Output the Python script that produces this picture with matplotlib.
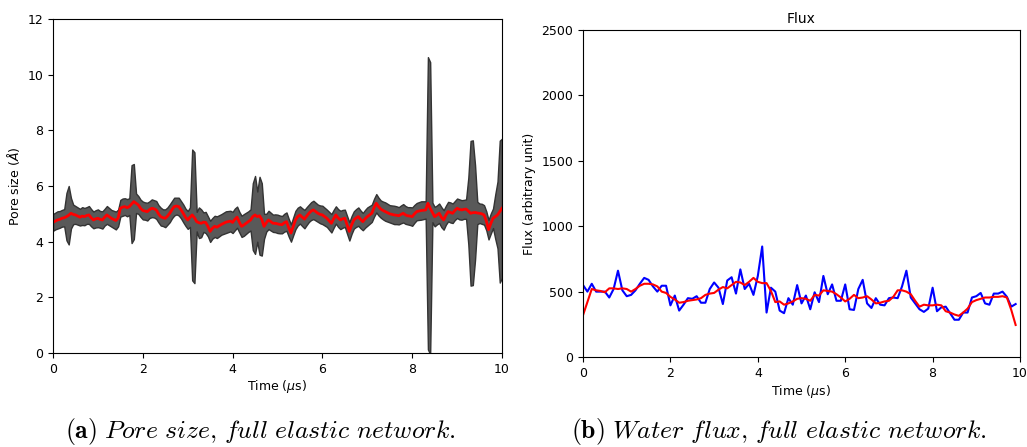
import numpy as np
import matplotlib
matplotlib.use('Agg')
import matplotlib.pyplot as plt

# pore size: time grid (us), mean and standard deviation (Angstrom)
t_pore = np.arange(0, 201) * 0.05
pore_mean = [4.69, 4.74, 4.78, 4.80, 4.84, 4.86, 4.90, 4.95, 5.02, 4.98,
             4.96, 4.92, 4.88, 4.92, 4.90, 4.94, 4.96, 4.86, 4.78, 4.82,
             4.84, 4.80, 4.78, 4.88, 4.96, 4.90, 4.84, 4.80, 4.76, 4.85,
             5.20, 5.24, 5.26, 5.22, 5.26, 5.35, 5.44, 5.38, 5.32, 5.20,
             5.12, 5.10, 5.08, 5.15, 5.20, 5.18, 5.14, 5.00, 4.90, 4.86,
             4.84, 4.92, 5.02, 5.15, 5.26, 5.28, 5.26, 5.15, 5.02, 4.88,
             4.78, 4.88, 4.96, 4.86, 4.72, 4.68, 4.66, 4.70, 4.69, 4.55,
             4.37, 4.48, 4.55, 4.52, 4.57, 4.62, 4.66, 4.70, 4.72, 4.74,
             4.69, 4.80, 4.88, 4.70, 4.55, 4.60, 4.66, 4.72, 4.78, 4.90,
             4.96, 4.90, 4.93, 4.80, 4.55, 4.68, 4.78, 4.72, 4.66, 4.66,
             4.64, 4.62, 4.61, 4.68, 4.72, 4.50, 4.31, 4.55, 4.78, 4.90,
             4.96, 4.88, 4.81, 4.92, 5.02, 5.10, 5.14, 5.08, 5.02, 4.98,
             4.96, 4.90, 4.84, 4.75, 4.66, 4.82, 4.96, 4.85, 4.78, 4.82,
             4.84, 4.60, 4.37, 4.60, 4.78, 4.85, 4.90, 4.80, 4.72, 4.82,
             4.90, 4.96, 5.02, 5.22, 5.38, 5.26, 5.17, 5.12, 5.08, 5.04,
             5.00, 4.98, 4.96, 4.95, 4.93, 4.98, 5.02, 4.96, 4.93, 4.92,
             4.90, 5.00, 5.08, 5.10, 5.12, 5.13, 5.14, 5.38, 5.20, 5.05,
             4.90, 4.96, 5.02, 4.88, 4.78, 4.95, 5.08, 5.05, 5.02, 5.12,
             5.20, 5.16, 5.14, 5.16, 5.17, 5.10, 5.02, 5.04, 5.05, 5.03,
             5.02, 5.00, 4.96, 4.75, 4.43, 4.65, 4.84, 4.90, 4.96, 5.08,
             5.20]
pore_sd = [0.30, 0.30, 0.31, 0.30, 0.30, 0.31, 0.85, 1.05, 0.55, 0.35,
           0.32, 0.31, 0.30, 0.32, 0.31, 0.30, 0.32, 0.31, 0.30, 0.31,
           0.32, 0.30, 0.31, 0.30, 0.32, 0.31, 0.30, 0.31, 0.32, 0.30,
           0.30, 0.31, 0.30, 0.31, 0.30, 1.40, 1.35, 0.35, 0.32, 0.31,
           0.32, 0.31, 0.32, 0.30, 0.32, 0.31, 0.32, 0.31, 0.32, 0.30,
           0.32, 0.31, 0.32, 0.31, 0.32, 0.30, 0.32, 0.31, 0.32, 0.31,
           0.32, 0.35, 2.35, 2.35, 0.35, 0.55, 0.50, 0.35, 0.38, 0.36,
           0.38, 0.37, 0.38, 0.39, 0.38, 0.37, 0.38, 0.39, 0.38, 0.37,
           0.38, 0.39, 0.38, 0.37, 0.38, 0.39, 0.38, 0.37, 0.38, 1.20,
           1.40, 0.90, 1.40, 1.30, 0.45, 0.32, 0.33, 0.32, 0.31, 0.32,
           0.33, 0.32, 0.31, 0.32, 0.33, 0.32, 0.31, 0.32, 0.33, 0.32,
           0.31, 0.32, 0.33, 0.32, 0.31, 0.32, 0.33, 0.32, 0.31, 0.32,
           0.33, 0.32, 0.31, 0.32, 0.33, 0.32, 0.31, 0.32, 0.33, 0.32,
           0.31, 0.32, 0.33, 0.32, 0.31, 0.32, 0.33, 0.32, 0.31, 0.32,
           0.33, 0.32, 0.31, 0.32, 0.33, 0.32, 0.31, 0.32, 0.33, 0.32,
           0.31, 0.32, 0.33, 0.32, 0.31, 0.32, 0.33, 0.32, 0.31, 0.32,
           0.33, 0.32, 0.31, 0.32, 0.33, 0.32, 0.31, 5.25, 5.25, 0.35,
           0.35, 0.34, 0.35, 0.36, 0.35, 0.34, 0.35, 0.36, 0.35, 0.34,
           0.35, 0.36, 0.35, 0.34, 0.35, 1.20, 2.60, 2.60, 1.70, 0.40,
           0.35, 0.36, 0.35, 0.34, 0.35, 0.36, 0.35, 0.80, 1.20, 2.55,
           2.50]

# water flux: raw and smoothed (arbitrary unit)
t_flux = np.arange(0, 100) * 0.1
flux_raw = [550, 500, 560, 500, 500, 500, 455, 520, 660, 510,
            465, 475, 510, 560, 605, 590, 540, 500, 545, 545,
            395, 470, 355, 400, 450, 445, 465, 415, 415, 520,
            570, 530, 405, 585, 610, 485, 670, 520, 560, 475,
            620, 845, 340, 530, 500, 355, 335, 450, 400, 550,
            410, 470, 365, 495, 420, 620, 480, 555, 430, 430,
            555, 365, 360, 520, 590, 410, 375, 450, 400, 395,
            450, 455, 450, 540, 660, 455, 410, 365, 345, 370,
            530, 350, 380, 385, 335, 285, 285, 340, 340, 455,
            465, 490, 410, 400, 485, 485, 500, 460, 385, 405]
flux_smooth = [320, 420, 520, 510, 505, 495, 525, 525, 520, 525,
               520, 500, 520, 545, 560, 560, 555, 540, 500, 490,
               460, 440, 415, 420, 430, 435, 440, 450, 475, 485,
               490, 515, 535, 525, 550, 575, 570, 550, 575, 605,
               575, 565, 565, 505, 420, 425, 400, 410, 425, 445,
               450, 445, 430, 475, 470, 510, 505, 500, 480, 455,
               425, 445, 475, 450, 455, 465, 440, 410, 415, 425,
               430, 460, 510, 510, 500, 480, 430, 385, 400, 395,
               395, 400, 395, 350, 340, 325, 315, 340, 370, 420,
               435, 445, 455, 455, 460, 460, 465, 455, 360, 245]

pore_mean = np.array(pore_mean)
pore_sd = np.array(pore_sd)

plt.rcParams['font.size'] = 9

fig = plt.figure(figsize=(10.27, 4.47), dpi=100)

ax1 = fig.add_axes([0.0516, 0.2103, 0.4372, 0.7472])
ax1.fill_between(t_pore, pore_mean - pore_sd, pore_mean + pore_sd,
                 facecolor='#595959', edgecolor='#333333', linewidth=1.0)
ax1.plot(t_pore, pore_mean, color='red', linewidth=2)
ax1.set_xlim(0, 10)
ax1.set_ylim(0, 12)
ax1.set_xticks(range(0, 11, 2))
ax1.set_yticks(range(0, 13, 2))
ax1.set_xlabel(r'Time ($\mu$s)', labelpad=2)
ax1.set_ylabel(r'Pore size ($\AA$)', labelpad=4)

ax2 = fig.add_axes([0.5677, 0.2013, 0.4255, 0.7315])
ax2.plot(t_flux, flux_raw, color='blue', linewidth=1.5)
ax2.plot(t_flux, flux_smooth, color='red', linewidth=1.5)
ax2.set_xlim(0, 10)
ax2.set_ylim(0, 2500)
ax2.set_xticks(range(0, 11, 2))
ax2.set_yticks(range(0, 2501, 500))
ax2.set_xlabel(r'Time ($\mu$s)', labelpad=2)
ax2.set_ylabel('Flux (arbitrary unit)', labelpad=4)
ax2.set_title('Flux', fontsize=10, pad=5)

fig.text(0.254, 0.034, r'$\mathbf{(a)}\ \mathit{Pore\ size{,}\ full\ elastic\ network.}$',
         ha='center', va='center', fontsize=18.5, math_fontfamily='cm')
fig.text(0.758, 0.034, r'$\mathbf{(b)}\ \mathit{Water\ flux{,}\ full\ elastic\ network.}$',
         ha='center', va='center', fontsize=18.5, math_fontfamily='cm')

fig.savefig('out.png', dpi=100)
